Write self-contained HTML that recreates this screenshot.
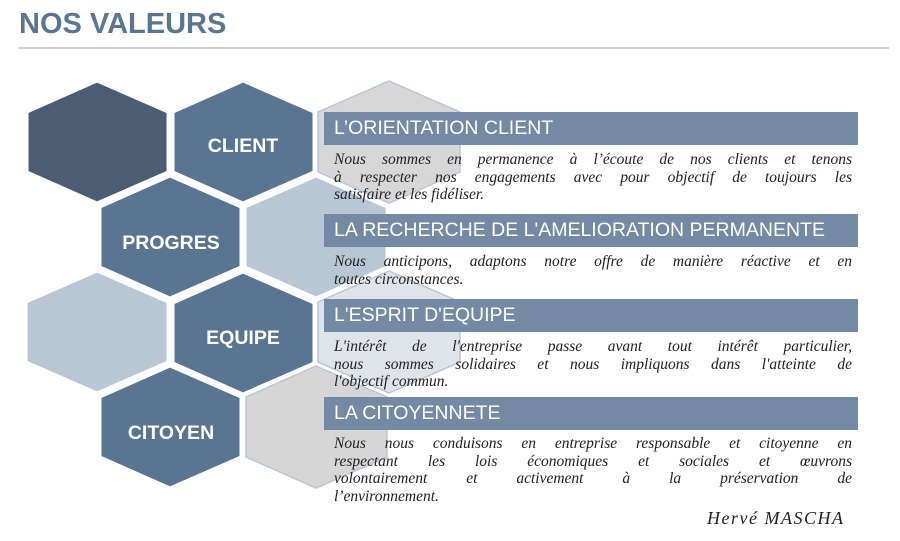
<!DOCTYPE html>
<html><head><meta charset="utf-8"><style>
body{margin:0;width:900px;height:541px;background:#fff;position:relative;overflow:hidden;font-family:"Liberation Sans",sans-serif}
.t{position:absolute;left:19px;top:8px;font-size:29px;font-weight:bold;color:#5b7692}
.hr{position:absolute;left:18px;top:47px;width:871px;height:2px;background:#d0d0d0}
.bar{position:absolute;left:324px;width:534px;height:33px;background:#7489a3;color:#fff;font-size:19.5px;line-height:33px;padding-left:10px;box-sizing:border-box}
.p{position:absolute;left:334px;width:518px;font-family:"Liberation Serif",serif;font-style:italic;font-size:15.5px;line-height:17.5px;color:#222}
.p div{text-align:justify;text-align-last:justify;white-space:nowrap;overflow:visible}
.p div.l{text-align-last:left}
.sig{position:absolute;left:707px;top:508px;font-family:"Liberation Serif",serif;font-style:italic;font-size:18px;letter-spacing:1.5px;color:#222}
svg{position:absolute;left:0;top:0}
</style></head><body>
<div class="t">NOS VALEURS</div><div class="hr"></div>
<svg width="900" height="541">
<g stroke="#fff" stroke-width="3">
<polygon points="97,81 168,112 168,172 97,203 27,172 27,112" fill="#4b5c73"/>
<polygon points="243,81 314,112 314,172 243,203 173,172 173,112" fill="#5a7591"/>
<polygon points="170,176 241,207 241,267 170,298 100,267 100,207" fill="#5a7591"/>
<polygon points="97,271 168,302 168,362 97,393 26,362 26,302" fill="#b9c7d5"/>
<polygon points="243,272 314,303 314,363 243,394 173,363 173,303" fill="#5a7591"/>
<polygon points="170,366 241,397 241,457 170,488 100,457 100,397" fill="#5a7591"/>
</g>
<g stroke="#b9c7d5" stroke-width="1.5">
<polygon points="389,81 460,112 460,172 389,203 318,172 318,112" fill="#d7d7d7"/>
<polygon points="316,176 387,207 387,267 316,298 245,267 245,207" fill="#b9c7d5" stroke="#fff" stroke-width="3"/>
<polygon points="389,271 460,302 460,362 389,393 318,362 318,302" fill="#dfe4eb"/>
<polygon points="316,366 387,397 387,457 316,488 246,457 246,397" fill="#d6d6d6"/>
</g>
<g fill="#fff" font-family="Liberation Sans" font-weight="bold" font-size="19.5" text-anchor="middle">
<text x="243" y="152">CLIENT</text>
<text x="171" y="249">PROGRES</text>
<text x="243" y="344">EQUIPE</text>
<text x="171" y="439">CITOYEN</text>
</g>
</svg>
<div class="bar" style="top:112px">L’ORIENTATION CLIENT</div>
<div class="p" style="top:151px"><div>Nous sommes en permanence à l’écoute de nos clients et tenons</div><div>à respecter nos engagements avec pour objectif de toujours les</div><div class="l">satisfaire et les fidéliser.</div></div>
<div class="bar" style="top:214px">LA RECHERCHE DE L'AMELIORATION PERMANENTE</div>
<div class="p" style="top:253px"><div>Nous anticipons, adaptons notre offre de manière réactive et en</div><div class="l">toutes circonstances.</div></div>
<div class="bar" style="top:299px">L'ESPRIT D'EQUIPE</div>
<div class="p" style="top:338px"><div>L'intérêt de l'entreprise passe avant tout intérêt particulier,</div><div>nous sommes solidaires et nous impliquons dans l'atteinte de</div><div class="l">l'objectif commun.</div></div>
<div class="bar" style="top:397px">LA CITOYENNETE</div>
<div class="p" style="top:435px"><div>Nous nous conduisons en entreprise responsable et citoyenne en</div><div>respectant les lois économiques et sociales et œuvrons</div><div>volontairement et activement à la préservation de</div><div class="l">l’environnement.</div></div>
<div class="sig">Hervé MASCHA</div>
</body></html>
